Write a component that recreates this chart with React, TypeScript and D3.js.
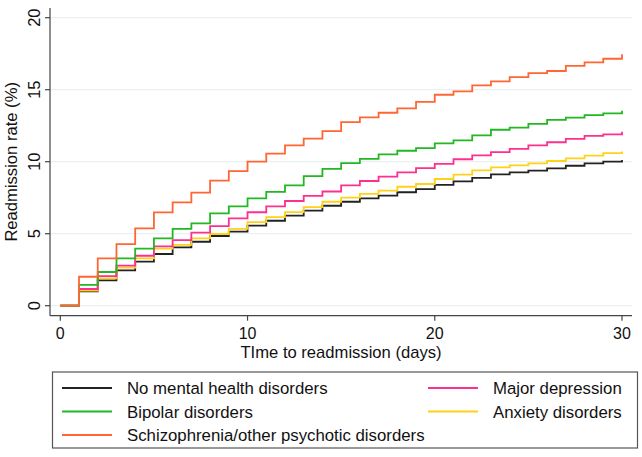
import React from "react";
import * as d3 from "d3";

const days = d3.range(0, 31);
const noMental = [0, 1.0, 1.76, 2.46, 3.06, 3.59, 4.05, 4.44, 4.84, 5.14, 5.56, 5.9, 6.25, 6.6, 6.94, 7.22, 7.46, 7.64, 7.88, 8.1, 8.39, 8.64, 8.87, 9.12, 9.26, 9.38, 9.54, 9.72, 9.89, 10.0, 10.12];
const bipolar = [0, 1.44, 2.34, 3.29, 3.96, 4.68, 5.33, 5.72, 6.41, 6.9, 7.45, 7.9, 8.36, 9.0, 9.5, 9.9, 10.19, 10.51, 10.76, 10.94, 11.27, 11.48, 11.83, 12.22, 12.36, 12.62, 12.9, 13.06, 13.24, 13.36, 13.54];
const schizo = [0, 2.01, 3.29, 4.28, 5.37, 6.48, 7.18, 7.85, 8.68, 9.35, 10.0, 10.56, 11.14, 11.6, 12.13, 12.75, 13.08, 13.4, 13.7, 14.15, 14.65, 14.89, 15.3, 15.58, 15.87, 16.15, 16.3, 16.65, 16.9, 17.15, 17.46];
const depression = [0, 1.16, 2.06, 2.78, 3.47, 4.12, 4.56, 5.07, 5.53, 6.07, 6.49, 6.9, 7.27, 7.62, 7.93, 8.35, 8.66, 8.96, 9.26, 9.55, 9.85, 10.17, 10.44, 10.67, 10.89, 11.14, 11.35, 11.58, 11.8, 11.9, 12.08];
const anxiety = [0, 1.05, 1.9, 2.64, 3.29, 3.96, 4.22, 4.68, 4.98, 5.33, 5.8, 6.15, 6.5, 6.85, 7.22, 7.5, 7.76, 7.99, 8.26, 8.45, 8.8, 9.1, 9.4, 9.6, 9.75, 9.89, 10.05, 10.23, 10.42, 10.6, 10.7];

const xTicks = [0, 10, 20, 30];
const yTicks = [0, 5, 10, 15, 20];

const seriesNames = [
  "No mental health disorders",
  "Bipolar disorders",
  "Schizophrenia/other psychotic disorders",
  "Major depression",
  "Anxiety disorders",
];
const seriesValues = [noMental, bipolar, schizo, depression, anxiety];
const seriesColors = ["#222222", "#22b822", "#ff6633", "#ff2f8e", "#ffd21a"];

const FONT = "'Liberation Sans', Arial, Helvetica, sans-serif";

export default function App() {
  const W = 642, H = 457;
  const x = d3.scaleLinear().domain([0, 30]).range([60.3, 622]);
  const y = d3.scaleLinear().domain([0, 20]).range([305.7, 17.7]);
  const plotLeft = 50, plotRight = 632, axisY = 315.7, axisTop = 8;

  const line = d3
    .line<[number, number]>()
    .x((d) => x(d[0]))
    .y((d) => y(d[1]))
    .curve(d3.curveStepAfter);

  const drawOrder = [0, 4, 3, 1, 2];

  const legendItems = [
    { i: 0, col: 0, row: 0 },
    { i: 3, col: 1, row: 0 },
    { i: 1, col: 0, row: 1 },
    { i: 4, col: 1, row: 1 },
    { i: 2, col: 0, row: 2 },
  ];
  const colX = [62, 428];
  const rowY = [388, 411.5, 435];

  return (
    <svg width={W} height={H} style={{ position: "absolute", left: 0, top: 0, background: "#fff" }} fontFamily={FONT}>
      <rect x={0} y={0} width={W} height={H} fill="#fff" />
      {yTicks.map((t) => (
        <line key={"g" + t} x1={plotLeft} x2={plotRight} y1={y(t)} y2={y(t)} stroke="#eaf1f2" strokeWidth={1.2} />
      ))}
      <line x1={plotLeft} x2={plotLeft} y1={axisTop} y2={axisY} stroke="#444" strokeWidth={1.2} />
      <line x1={plotLeft} x2={plotRight} y1={axisY} y2={axisY} stroke="#444" strokeWidth={1.2} />
      {yTicks.map((t) => (
        <g key={"yt" + t}>
          <line x1={plotLeft - 5} x2={plotLeft} y1={y(t)} y2={y(t)} stroke="#444" strokeWidth={1.2} />
          <text
            transform={`translate(39.5,${y(t)}) rotate(-90)`}
            textAnchor="middle"
            fontSize={16.5}
            fill="#111"
          >
            {t}
          </text>
        </g>
      ))}
      {xTicks.map((t) => (
        <g key={"xt" + t}>
          <line x1={x(t)} x2={x(t)} y1={axisY} y2={axisY + 5} stroke="#444" strokeWidth={1.2} />
          <text x={x(t)} y={338.5} textAnchor="middle" fontSize={16} fill="#111">
            {t}
          </text>
        </g>
      ))}
      <text
        transform={`translate(17,${(axisTop + axisY) / 2}) rotate(-90)`}
        textAnchor="middle"
        fontSize={16.6}
        fill="#111"
      >
        Readmission rate (%)
      </text>
      <text x={341} y={357.5} textAnchor="middle" fontSize={16.6} fill="#111">
        TIme to readmission (days)
      </text>

      {drawOrder.map((si) => (
        <path
          key={"s" + si}
          d={line(days.map((d, k) => [d, seriesValues[si][k]] as [number, number])) || ""}
          fill="none"
          stroke={seriesColors[si]}
          strokeWidth={1.8}
        />
      ))}

      <rect x={52.5} y={372} width={585} height={76} fill="#fff" stroke="#555" strokeWidth={1.2} />
      {legendItems.map((it) => (
        <g key={"l" + it.i}>
          <line
            x1={colX[it.col]}
            x2={colX[it.col] + 50}
            y1={rowY[it.row]}
            y2={rowY[it.row]}
            stroke={seriesColors[it.i]}
            strokeWidth={1.8}
          />
          <text x={colX[it.col] + 65} y={rowY[it.row] + 6} fontSize={16.8} fill="#111">
            {seriesNames[it.i]}
          </text>
        </g>
      ))}
    </svg>
  );
}
